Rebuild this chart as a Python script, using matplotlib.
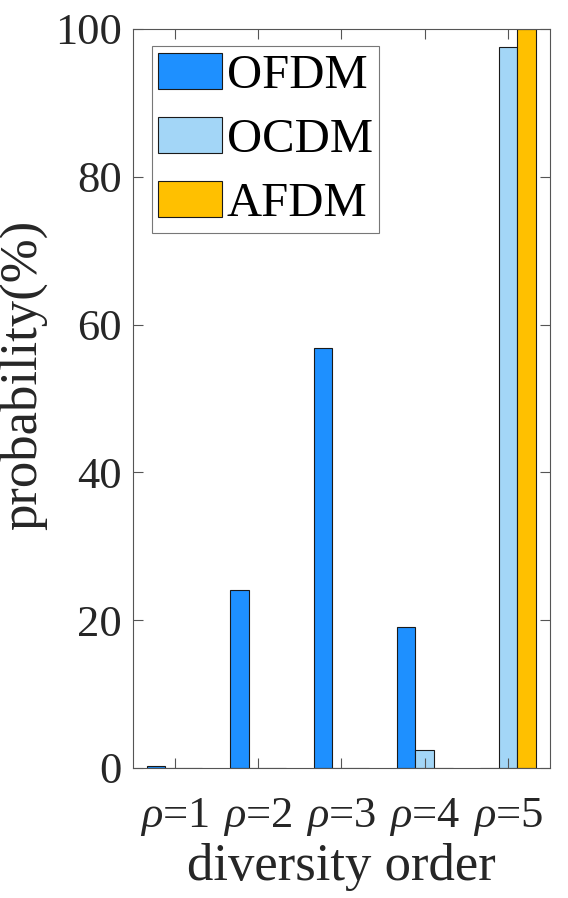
import numpy as np
import matplotlib
matplotlib.use('Agg')
import matplotlib.pyplot as plt

# diversity order categories and probabilities (%)
orders = [1, 2, 3, 4, 5]
xlabels = [r'$\rho$=%d' % k for k in orders]
ofdm = [0.3, 24.1, 56.8, 19.1, 0.0]
ocdm = [0.0, 0.0, 0.0, 2.4, 97.6]
afdm = [0.0, 0.0, 0.0, 0.0, 100.0]
names = ['OFDM', 'OCDM', 'AFDM']
colors = ['#1E90FF', '#A3D6F7', '#FFC000']

plt.rcParams['font.family'] = ['Liberation Serif', 'DejaVu Serif']
plt.rcParams['mathtext.fontset'] = 'custom'
plt.rcParams['mathtext.it'] = 'Liberation Serif:italic'
plt.rcParams['mathtext.rm'] = 'Liberation Serif'

fs = 32
lfs = 38
tc = '#262626'

fig = plt.figure(figsize=(5.68, 8.98), dpi=100)
ax = fig.add_axes([0.234, 0.1448, 0.734, 0.823])

x = np.array(orders, dtype=float)
w = 2.0 / 9.0
for i, (vals, name, c) in enumerate(zip([ofdm, ocdm, afdm], names, colors)):
    ax.bar(x + (i - 1) * w, vals, width=w, color=c, edgecolor='#1a1a1a',
           linewidth=0.8, label=name)

ax.set_xlim(0.5, 5.5)
ax.set_ylim(0, 100)
ax.set_xticks(orders)
ax.set_xticklabels(xlabels)
ax.set_yticks([0, 20, 40, 60, 80, 100])
ax.tick_params(direction='in', length=7, width=0.8, colors='#555555',
               labelcolor=tc, labelsize=fs, top=True, right=True)
ax.tick_params(axis='x', pad=20)
ax.tick_params(axis='y', pad=8)
for s in ax.spines.values():
    s.set_color('#555555')
    s.set_linewidth(0.8)

ax.set_xlabel('diversity order', fontsize=lfs, color=tc, labelpad=4)
ax.set_ylabel('probability(%)', fontsize=lfs, color=tc)
ax.yaxis.set_label_coords(-0.205, 0.532)

leg = ax.legend(loc='upper left', bbox_to_anchor=(0.045, 0.977), fontsize=35,
                frameon=True, fancybox=False, edgecolor='#555555',
                handlelength=1.3, handleheight=0.76, handletextpad=0.1,
                labelspacing=0.4, borderpad=0.14, borderaxespad=0.0)
leg.get_frame().set_linewidth(0.8)

fig.savefig('out.png', dpi=100)
